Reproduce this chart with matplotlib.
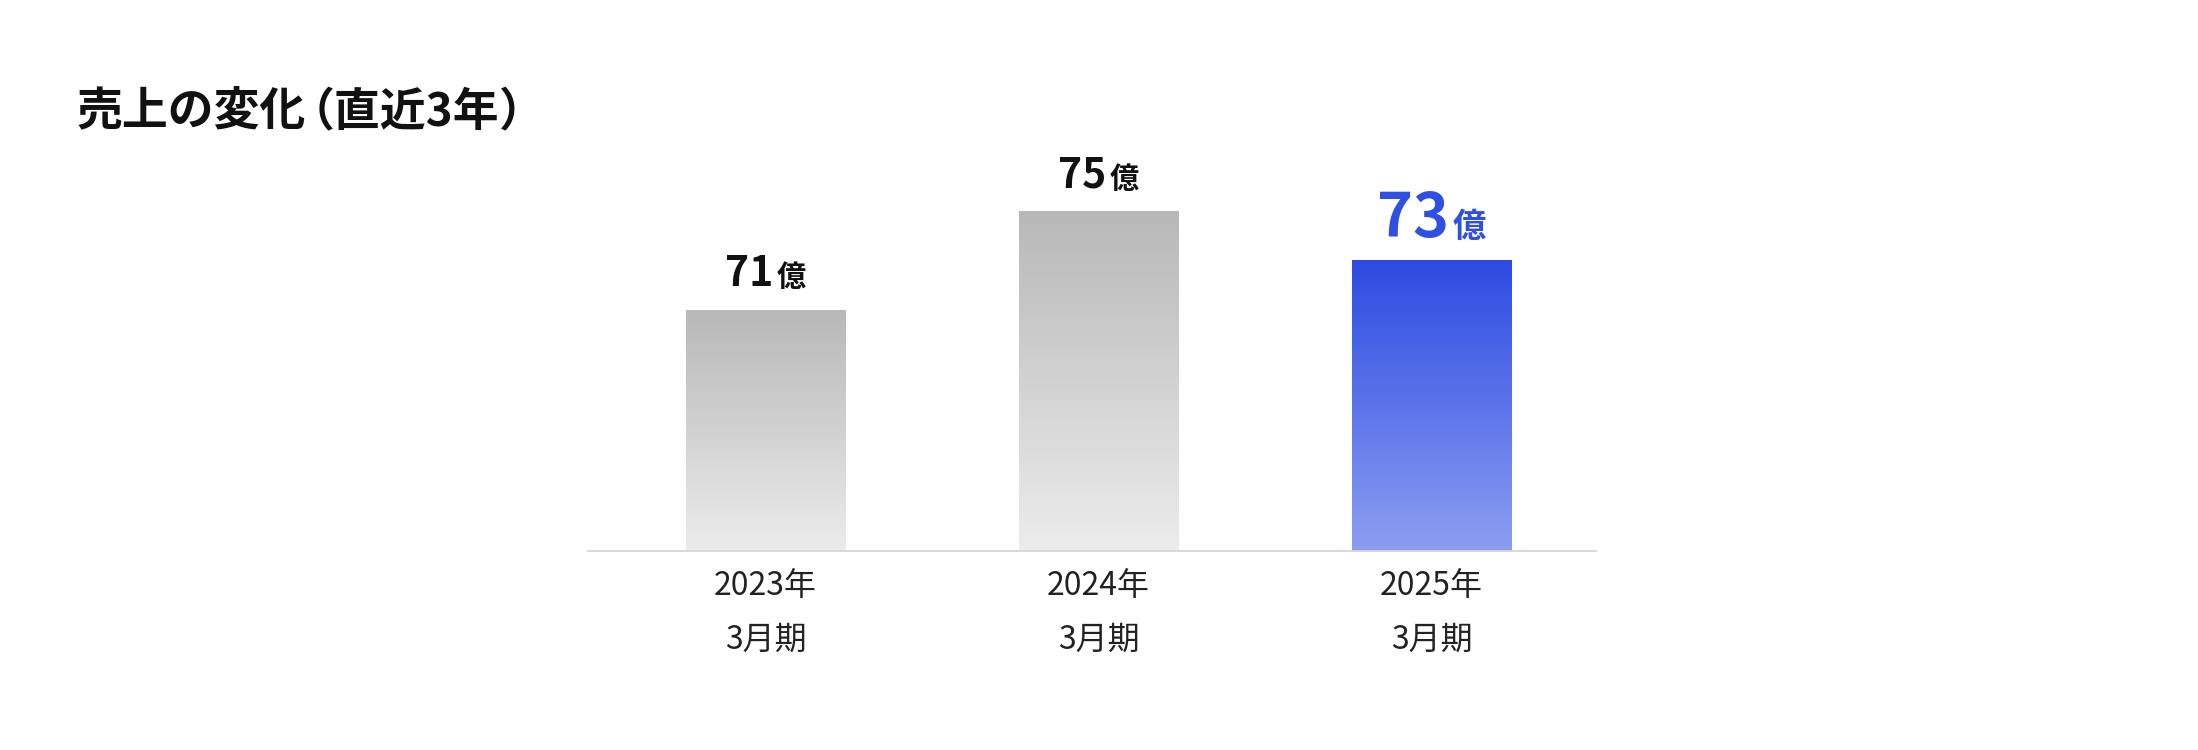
import numpy as np
import matplotlib
matplotlib.use("Agg")
import matplotlib.pyplot as plt
from matplotlib.colors import LinearSegmentedColormap

plt.rcParams['font.family'] = ['Noto Sans CJK JP', 'DejaVu Sans']

# ---- data ----
title_parts = ["売上の変化", "（直近3年", "）"]
categories = ["2023年\n3月期", "2024年\n3月期", "2025年\n3月期"]
values = [71, 75, 73]
value_labels = ["71", "75", "73"]
unit = "億"
highlight = [False, False, True]

# ---- style ----
gray_top, gray_bot = "#b8b8b8", "#ececec"
blue_top, blue_bot = "#2d4be2", "#8c9ef2"
blue_text = "#3050e4"
base = 61.2

W, H, DPI = 2198, 750, 100
fig = plt.figure(figsize=(W / DPI, H / DPI), dpi=DPI)
ax = fig.add_axes([588 / W, 199 / H, 1008 / W, 450 / H])

x = np.arange(len(values))
bw = 0.48
bars = ax.bar(x, [v - base for v in values], bottom=base, width=bw,
              color="none", edgecolor="none")
ax.set_xlim(-0.533, 2.494)
ax.set_ylim(base, base + 18.3)

grad = np.linspace(0, 1, 256).reshape(-1, 1)
for b, v, hl in zip(bars, values, highlight):
    cmap = LinearSegmentedColormap.from_list(
        "g", [blue_bot, blue_top] if hl else [gray_bot, gray_top])
    x0 = b.get_x()
    ax.imshow(grad, extent=(x0, x0 + b.get_width(), base, v), origin="lower",
              aspect="auto", cmap=cmap, zorder=2, interpolation="bilinear")

for s in ["top", "right", "left"]:
    ax.spines[s].set_visible(False)
ax.spines["bottom"].set_color("#d6d6d6")
ax.spines["bottom"].set_linewidth(1.3)
ax.spines["bottom"].set_zorder(3)
ax.set_yticks([])
ax.set_xticks(x)
ax.set_xticklabels(categories, fontsize=23, color="#222222", linespacing=1.85)
ax.tick_params(axis="x", length=0, pad=14)

# value labels
fig.canvas.draw()
renderer = fig.canvas.get_renderer()
for xi, v, lab, hl in zip(x, values, value_labels, highlight):
    col = blue_text if hl else "#111111"
    fs_num = 44 if hl else 29.5
    fs_unit = 24 if hl else 21
    t1 = ax.annotate(lab, (xi, v), xytext=(0, 24), textcoords="offset pixels",
                     ha="left", va="baseline", fontsize=fs_num,
                     fontweight="bold", color=col)
    t2 = ax.annotate(unit, (xi, v), xytext=(0, 24), textcoords="offset pixels",
                     ha="left", va="baseline", fontsize=fs_unit,
                     fontweight="bold", color=col)
    w1 = t1.get_window_extent(renderer).width
    w2 = t2.get_window_extent(renderer).width
    gap = 3
    tot = w1 + gap + w2
    t1.set_position((-tot / 2, 24))
    t2.set_position((-tot / 2 + w1 + gap, 24))

# title, drawn in pieces so the full-width parentheses sit a little tighter
xpos = 77
joins = [-18, 0, 0]
for part, j in zip(title_parts, joins):
    t = fig.text(xpos / W, 1 - 125 / H, part, fontsize=33, fontweight="bold",
                 color="#111111", ha="left", va="baseline")
    bb = t.get_window_extent(renderer)
    xpos = bb.x1 + j

fig.savefig("out.png", dpi=DPI, facecolor="white")
